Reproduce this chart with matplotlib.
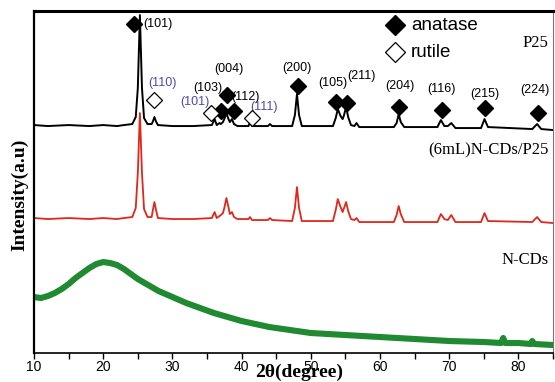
import matplotlib
matplotlib.use("Agg")
import matplotlib.pyplot as plt

# P25 (black)
p25_x = [10, 12, 15, 18, 20, 22, 23, 24.2, 24.7, 25.0, 25.3, 25.6, 25.9, 26.4, 27.0, 27.2, 27.4, 27.6, 27.9,
         30, 33, 35.7, 36.1, 36.4, 36.8, 37.0, 37.3, 37.5, 37.8, 38.1, 38.3, 38.6, 38.9, 39.4,
         41.0, 41.2, 41.5, 43.8, 44.1, 44.4, 47.3, 47.7, 48.0, 48.3, 48.7,
         53.2, 53.6, 53.9, 54.3, 54.6, 54.8, 55.1, 55.4, 55.8, 56.3, 56.6, 57.0,
         62.0, 62.4, 62.7, 63.0, 63.5, 68.3, 68.8, 69.3, 69.8, 70.3, 70.9,
         74.6, 75.1, 75.6, 82.0, 82.7, 83.3, 85]
p25_y = [228, 227, 228, 227, 228, 227, 228, 229, 236, 265, 338, 265, 235, 229, 229, 232, 236, 232, 228,
         227, 227, 228, 234, 228, 230, 229, 231, 234, 240, 234, 231, 234, 229, 227,
         227, 231, 227, 227, 229, 227, 227, 238, 259, 238, 227,
         227, 235, 244, 237, 234, 238, 246, 236, 228, 227, 230, 226,
         226, 230, 239, 231, 226, 226, 233, 227, 227, 230, 225,
         225, 234, 226, 224, 229, 224, 223]

# (6mL)N-CDs/P25 (red)
cds_p25_x = p25_x
cds_p25_y = [135, 134, 135, 134, 135, 134, 135, 136, 145, 180, 240, 180, 144, 136, 136, 144, 151, 144, 135,
             134, 134, 135, 141, 135, 137, 138, 140, 145, 155, 146, 139, 141, 136, 134,
             134, 136, 133, 133, 135, 133, 132, 145, 166, 145, 132,
             132, 143, 154, 146, 141, 145, 151, 142, 134, 133, 135, 131,
             131, 138, 147, 139, 131, 131, 139, 134, 133, 138, 131,
             131, 140, 132, 131, 136, 131, 130]

# N-CDs (green)
cds_x = [10, 11, 12, 13, 14, 15, 16, 17, 18, 19, 20, 21, 22, 23, 24, 25, 26, 27, 28, 30, 32, 34, 36, 38,
         40, 42, 44, 46, 48, 50, 55, 60, 65, 70, 75, 77.5, 77.8, 78.1, 80, 81.8, 82.0, 82.3, 85]
cds_y = [56, 55, 57, 60, 64, 69, 75, 80, 85, 89, 91, 90, 88, 84, 79, 74, 70, 66, 62, 56, 50, 45, 40, 36,
         32, 29, 26, 24, 22, 20, 18, 16, 14, 12, 11, 10, 15, 10, 10, 9, 12, 9, 8]

# anatase markers and (hkl) labels
anatase_labels = ["(101)", "(103)", "(004)", "(112)", "(200)", "(105)", "(211)", "(204)", "(116)", "(215)", "(224)"]
anatase_mx = [24.5, 37.05, 37.9, 38.9, 48.1, 53.6, 55.3, 62.7, 68.9, 75.2, 82.9]
anatase_my = [329, 242, 258, 242, 267, 251, 250, 246, 243, 245, 240]
anatase_tx = [27.9, 35.1, 38.2, 40.6, 48.0, 53.2, 57.3, 62.8, 68.9, 75.2, 82.4]
anatase_ty = [329, 265, 284, 256, 285, 270, 277, 267, 264, 259, 263]

rutile_labels = ["(110)", "(101)", "(111)"]
rutile_mx = [27.3, 35.6, 41.5]
rutile_my = [253, 240, 235]
rutile_tx = [28.6, 33.3, 43.2]
rutile_ty = [270, 251, 246]

fig = plt.figure(figsize=(5.55, 3.82), dpi=100)
ax = fig.add_axes([0.0613, 0.0759, 0.9351, 0.8951])

ax.plot(cds_x, cds_y, color="#1f8a32", lw=4.4, solid_joinstyle="round")
ax.plot(cds_p25_x, cds_p25_y, color="#e2261a", lw=1.3)
ax.plot(p25_x, p25_y, color="black", lw=1.4)

ax.plot(anatase_mx, anatase_my, ls="none", marker="D", ms=8.5, color="black", zorder=5)
ax.plot(rutile_mx, rutile_my, ls="none", marker="D", ms=8.5, mfc="white", mec="black", mew=0.9, zorder=5)

for lab, x, y in zip(anatase_labels, anatase_tx, anatase_ty):
    ax.text(x, y, lab, ha="center", va="center", fontsize=9, family="Liberation Sans", color="black")
for lab, x, y in zip(rutile_labels, rutile_tx, rutile_ty):
    ax.text(x, y, lab, ha="center", va="center", fontsize=9, family="Liberation Sans", color="#4a4ab8")

# legend drawn by hand
ax.plot([62.2], [328], ls="none", marker="D", ms=10, color="black")
ax.plot([62.2], [301], ls="none", marker="D", ms=10, mfc="white", mec="black", mew=0.9)
ax.text(64.5, 328, "anatase", va="center", fontsize=13.5, family="Liberation Sans")
ax.text(64.5, 301, "rutile", va="center", fontsize=13.5, family="Liberation Sans")

for lab, y in [("P25", 310), ("(6mL)N-CDs/P25", 203), ("N-CDs", 93)]:
    ax.text(84.3, y, lab, ha="right", va="center", fontsize=12, family="Liberation Serif")

ax.set_xlim(10, 85)
ax.set_ylim(0, 342)
ax.set_yticks([])
ax.set_xticks(range(10, 90, 10))
ax.set_xticks(range(15, 90, 10), minor=True)
ax.tick_params(axis="x", which="both", direction="out", length=4, width=1, labelsize=10, pad=1)
for lab in ax.get_xticklabels():
    lab.set_family("Liberation Sans")
ax.spines["top"].set_linewidth(2.2)
ax.spines["left"].set_linewidth(1.6)
ax.spines["bottom"].set_linewidth(1.2)
ax.spines["right"].set_linewidth(0.8)
ax.spines["right"].set_color("#777777")

ax.set_ylabel("Intensity(a.u)", fontsize=14, fontweight="bold", family="Liberation Serif", va="center")
ax.yaxis.set_label_coords(-0.027, 0.462)
ax.set_xlabel("2θ(degree)", fontsize=14, fontweight="bold", family="Liberation Serif", va="center")
ax.xaxis.set_label_coords(0.51, -0.056)

fig.savefig("out.png", dpi=100)
